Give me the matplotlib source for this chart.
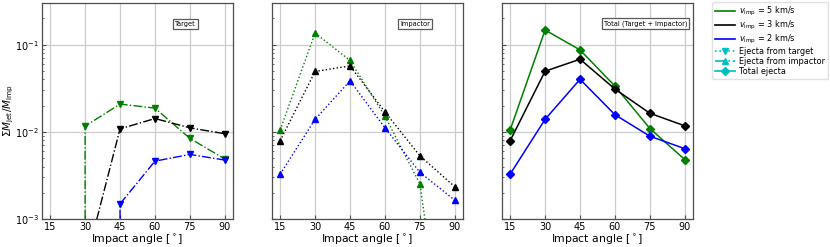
import matplotlib
matplotlib.use("Agg")
import matplotlib.pyplot as plt
from matplotlib.lines import Line2D
import numpy as np

angles = [15, 30, 45, 60, 75, 90]
velocities = ["5", "3", "2"]
colors = ["g", "k", "b"]

# Ejecta from target (fraction of impactor mass)
target_v5 = [0.0, 0.0116, 0.0208, 0.0187, 0.0084, 0.00487]
target_v3 = [0.0, 0.0003, 0.0108, 0.0142, 0.0111, 0.0095]
target_v2 = [0.0, 0.0, 0.00149, 0.00461, 0.0055, 0.00474]

# Ejecta from impactor
impactor_v5 = [0.0105, 0.136, 0.0658, 0.0151, 0.00252, 0.000004]
impactor_v3 = [0.0079, 0.0492, 0.057, 0.0169, 0.0053, 0.00234]
impactor_v2 = [0.00327, 0.0139, 0.0384, 0.0111, 0.00343, 0.00164]

# Total ejecta
total_v5 = [0.0105, 0.147, 0.0869, 0.0334, 0.0109, 0.0048]
total_v3 = [0.0079, 0.0495, 0.068, 0.0309, 0.0163, 0.0117]
total_v2 = [0.00327, 0.0139, 0.040, 0.0157, 0.0089, 0.0064]

panel_titles = ["Target", "Impactor", "Total (Target + Impactor)"]
xticks = [15, 30, 45, 60, 75, 90]

fig = plt.figure(figsize=(8.3, 2.47), dpi=100)
lefts = [42 / 830, 272 / 830, 502 / 830]
bottom = (247 - 219) / 247
height = 216 / 247
width = 191 / 830

datasets = [
    ([target_v5, target_v3, target_v2], "-.", "v"),
    ([impactor_v5, impactor_v3, impactor_v2], ":", "^"),
    ([total_v5, total_v3, total_v2], "-", "D"),
]

FS = 7.0
axes = []
for i, (series, ls, mk) in enumerate(datasets):
    ax = fig.add_axes([lefts[i], bottom, width, height])
    axes.append(ax)
    ax.set_yscale("log", nonpositive="clip")
    for s, c in zip(series, colors):
        ax.plot(angles, s, linestyle=ls, marker=mk, color=c,
                markersize=4.5,
                linewidth=1.0 if mk != "D" else 1.1)
    ax.set_xlim(11.5, 93.5)
    ax.set_ylim(1e-3, 0.3)
    ax.set_xticks(xticks)
    ax.set_xticklabels([str(t) for t in xticks])
    ax.grid(True, which="major", color="0.8", linewidth=0.9)
    ax.set_axisbelow(True)
    ax.tick_params(which="both", direction="in", labelsize=FS, color="0.3", pad=2)
    ax.tick_params(which="major", length=3)
    ax.tick_params(which="minor", length=1.5)
    for sp in ax.spines.values():
        sp.set_color("0.3")
        sp.set_linewidth(0.9)
    ax.set_xlabel("Impact angle [$^\\circ$]", fontsize=7.8, labelpad=1)
    if i > 0:
        ax.tick_params(axis="y", which="both", labelleft=False)
    ax.text(0.75, 0.905, panel_titles[i], transform=ax.transAxes,
            ha="center", va="center", fontsize=4.8,
            bbox=dict(boxstyle="square,pad=0.3", fc="white", ec="0.35", lw=0.9))

axes[0].set_ylabel("$\\Sigma M_\\mathrm{jet}/M_\\mathrm{imp}$", fontsize=7.5)
axes[0].yaxis.set_label_coords(-0.135, 0.5)

handles = [Line2D([], [], color=c, linestyle="-", linewidth=1.2) for c in colors]
labels = ["$v_\\mathrm{imp}$ = %s km/s" % v for v in velocities]
handles += [
    Line2D([], [], color="c", linestyle=":", marker="v", markersize=4, linewidth=1.2),
    Line2D([], [], color="c", linestyle="-.", marker="^", markersize=4, linewidth=1.2),
    Line2D([], [], color="c", linestyle="-", marker="D", markersize=4, linewidth=1.2),
]
labels += ["Ejecta from target", "Ejecta from impactor", "Total ejecta"]
fig.legend(handles, labels, loc="upper left", bbox_to_anchor=(712 / 830, 1 - 2 / 247),
           fontsize=5.9, frameon=True, edgecolor="0.85", fancybox=True,
           handlelength=2.4, borderpad=0.35, labelspacing=0.12, handletextpad=0.6,
           borderaxespad=0)

fig.savefig("out.png", dpi=100)
